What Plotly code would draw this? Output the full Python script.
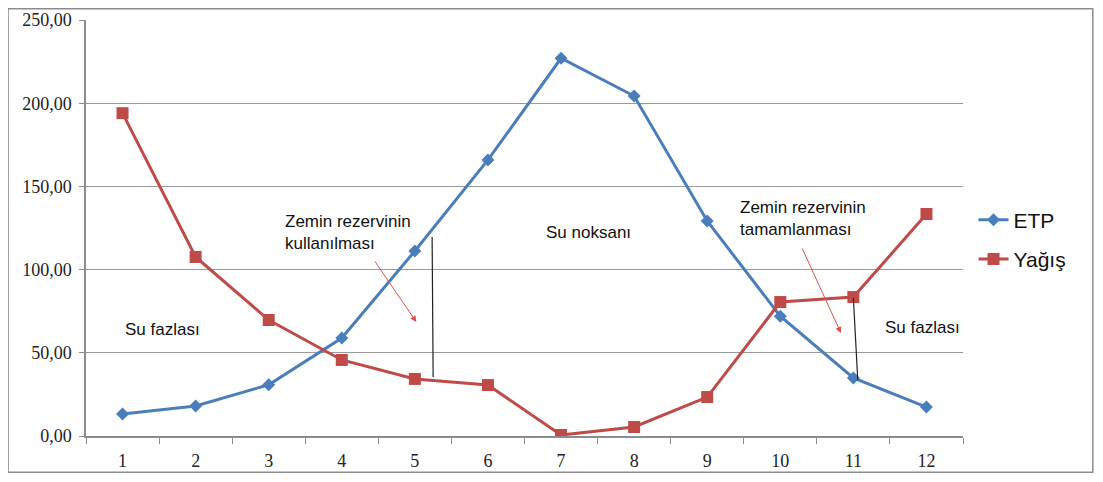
import plotly.graph_objects as go

months = [1, 2, 3, 4, 5, 6, 7, 8, 9, 10, 11, 12]
etp = [13.2, 18.0, 30.8, 58.9, 111.2, 165.9, 227.0, 204.3, 129.2, 72.0, 34.9, 17.4]
yagis = [194.0, 107.6, 69.7, 45.7, 34.3, 30.6, 0.6, 5.4, 23.4, 80.5, 83.5, 133.4]

BLUE = "#4a7ebb"
RED = "#be4b48"
SERIF = "Liberation Serif, Times New Roman, serif"
SANS = "Liberation Sans, Arial, sans-serif"

fig = go.Figure()
fig.add_trace(go.Scatter(
    x=months, y=etp, name="ETP", mode="lines+markers", legendgroup="etp",
    line=dict(color=BLUE, width=3),
    marker=dict(symbol="diamond", size=10, color=BLUE)
))
fig.add_trace(go.Scatter(
    x=months, y=yagis, name="Yağış", mode="lines+markers", legendgroup="yagis",
    line=dict(color=RED, width=3),
    marker=dict(symbol="square", size=12, color=RED)
))

# annotation texts
txt_font = dict(family=SANS, size=17, color="#111")
for x, y, t in [
    (3.2, 122, "Zemin rezervinin<br>kullanılması"),
    (6.77, 122, "Su noksanı"),
    (9.42, 131, "Zemin rezervinin<br>tamamlanması"),
    (1.0, 64, "Su fazlası"),
    (11.4, 65.5, "Su fazlası"),
]:
    fig.add_annotation(x=x, y=y, text=t, showarrow=False, xanchor="left",
                       align="left", font=txt_font)

# red arrows
for (ax, ay, x, y) in [(4.44, 105.8, 5.02, 68.5), (10.29, 113.6, 10.83, 61.9)]:
    fig.add_annotation(x=x, y=y, ax=ax, ay=ay, axref="x", ayref="y", text="",
                       showarrow=True, arrowhead=2, arrowsize=1.2, arrowwidth=1,
                       arrowcolor="#d9534f")

# black marker lines
fig.add_shape(type="line", x0=5.236, y0=119.6, x1=5.25, y1=35.5,
              line=dict(color="#222", width=1.2))
fig.add_shape(type="line", x0=11.0, y0=82.9, x1=11.06, y1=33.7,
              line=dict(color="#222", width=1.2))

# outer frame
fig.add_shape(type="rect", xref="paper", yref="paper",
              x0=-0.0889, x1=1.148, y0=-0.087, y1=1.027,
              line=dict(color="#8c8c8c", width=1.5))

fig.update_xaxes(
    range=[0.5, 12.5], tickvals=months, ticks="", automargin=False,
    showgrid=False, zeroline=False,
    showline=True, linecolor="#8c8c8c", linewidth=1.5,
    tickfont=dict(family=SERIF, size=18, color="#222"),
    ticklabelstandoff=8,
    minor=dict(tickvals=[i + 0.5 for i in range(13)], ticks="outside",
               ticklen=6, tickcolor="#8c8c8c", showgrid=False),
)
fig.update_yaxes(
    range=[0, 250], dtick=50, tickformat=".2f", automargin=False,
    showgrid=True, gridcolor="#9a9a9a", gridwidth=1,
    zeroline=False, showline=True, linecolor="#8c8c8c", linewidth=1.5,
    ticks="outside", ticklen=5, tickcolor="#8c8c8c",
    tickfont=dict(family=SERIF, size=18, color="#222"),
    ticklabelstandoff=4,
)

# the page body adds 8px around the figure, so size it to fit the window
fig.update_layout(
    width=1087, height=466,
    margin=dict(l=78, r=132, t=12, b=38),
    paper_bgcolor="white", plot_bgcolor="white",
    separators=",.",
    showlegend=True,
    legend=dict(x=1.012, y=0.472, xanchor="left", yanchor="middle",
                font=dict(family=SANS, size=21, color="#111"),
                bgcolor="rgba(0,0,0,0)", tracegroupgap=9),
)

fig.write_html("out.html")
